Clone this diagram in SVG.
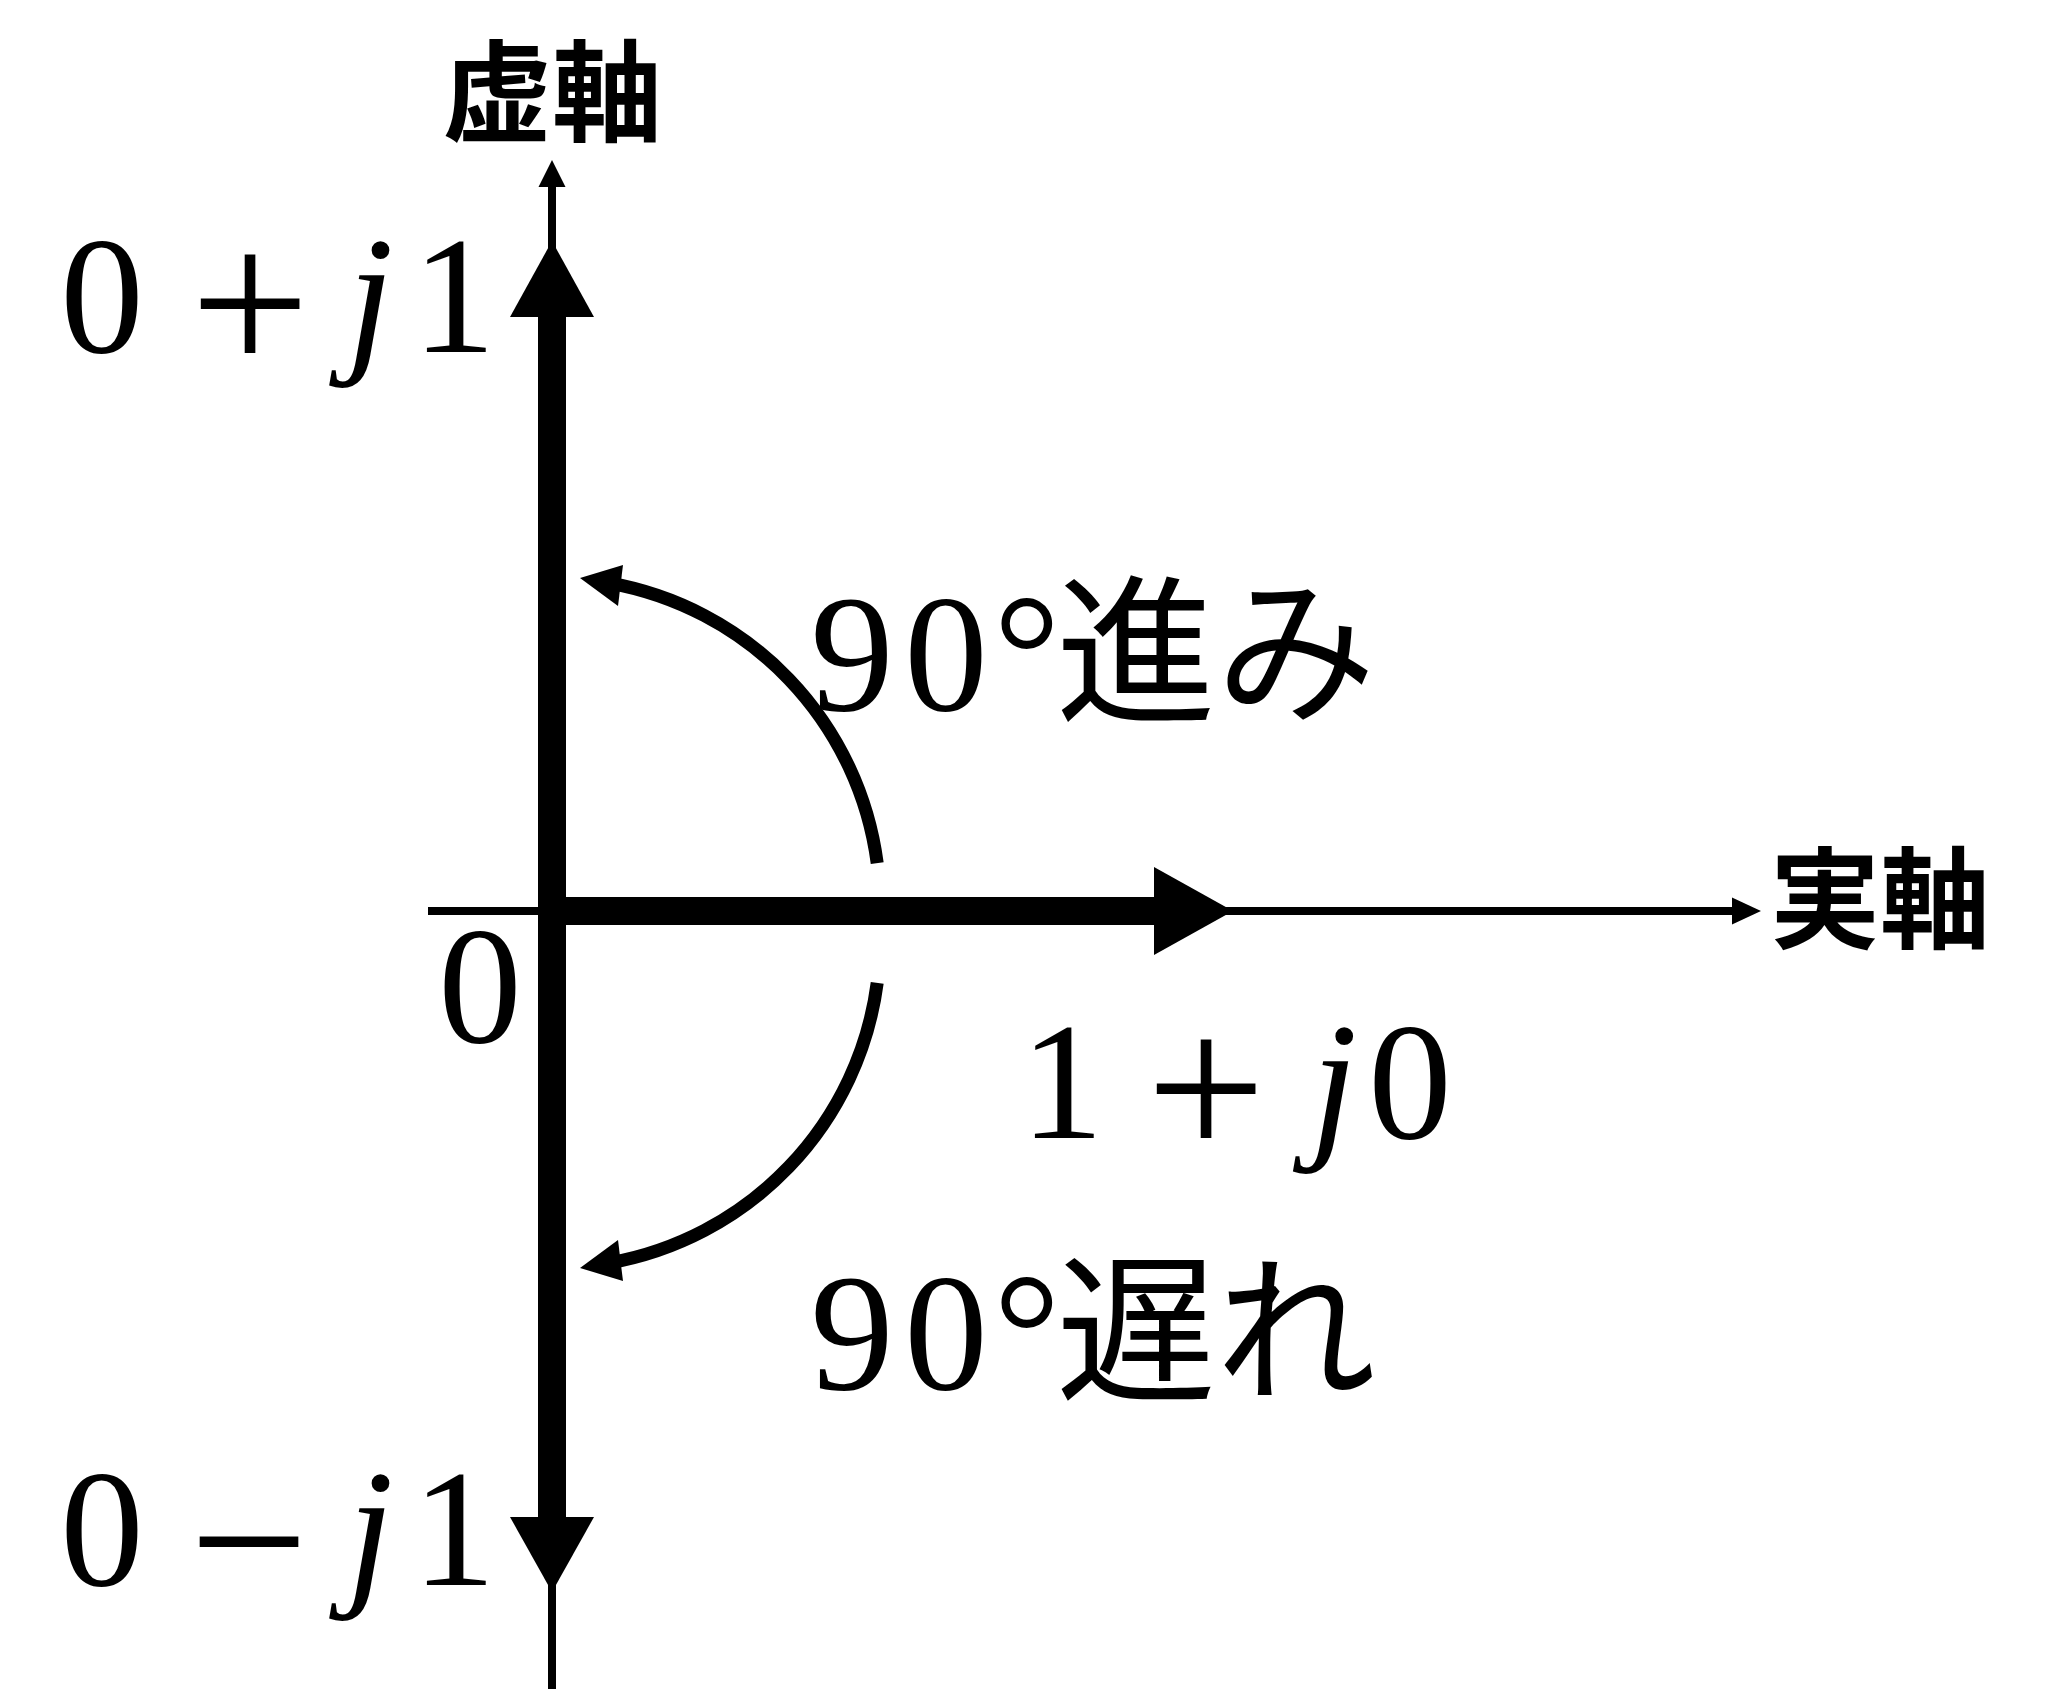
<svg xmlns="http://www.w3.org/2000/svg" width="2057" height="1689" viewBox="0 0 2057 1689">
<style>
.num{font-family:"Liberation Serif","DejaVu Serif",serif;font-size:167px;fill:#000}
.op{font-family:"Liberation Serif","DejaVu Serif",serif;font-size:212px;fill:#000}
.it{font-family:"Liberation Serif","DejaVu Serif",serif;font-style:italic;font-size:167px;fill:#000}
.jp{font-family:"Noto Sans CJK JP","Noto Sans CJK SC",sans-serif;font-size:160px;fill:#000}
.ax{font-family:"Noto Sans CJK JP","Noto Sans CJK SC",sans-serif;font-size:110px;font-weight:700;fill:#000}
.thin{stroke:#000;stroke-width:8;fill:none}
.thick{stroke:#000;stroke-width:28;fill:none}
.arc{stroke:#000;stroke-width:13;fill:none}
.head{fill:#000;stroke:none}
</style>
<rect width="2057" height="1689" fill="#fff"/>
<g id="connectors">
  <line class="thin" x1="552" y1="184" x2="552" y2="1689"/>
  <polygon class="head" points="552,160 538.5,187 565.5,187"/>
  <line class="thin" x1="428" y1="911" x2="1735" y2="911"/>
  <polygon class="head" points="1761,911 1732,897.5 1732,924.5"/>
  <line class="thick" x1="552" y1="911" x2="552" y2="310"/>
  <polygon class="head" points="552,241 510,317 594,317"/>
  <line class="thick" x1="552" y1="911" x2="552" y2="1524"/>
  <polygon class="head" points="552,1592 510,1517 594,1517"/>
  <line class="thick" x1="552" y1="911" x2="1160" y2="911"/>
  <polygon class="head" points="1233,911 1154,867 1154,955"/>
  <path class="arc" d="M 877.2 863.2 A 328 328 0 0 0 609 583"/>
  <polygon class="head" points="580,578 623,565 618,606"/>
  <path class="arc" d="M 877.2 982.8 A 328 328 0 0 1 609 1263"/>
  <polygon class="head" points="580,1268 618,1240 623,1281"/>
</g>
<g id="label-imag-axis"><text class="ax" x="552" y="133" text-anchor="middle">虚軸</text></g>
<g id="label-real-axis"><text class="ax" x="1770" y="940">実軸</text></g>
<g id="label-origin"><text class="num" x="480" y="1042" text-anchor="middle">0</text></g>
<g id="label-p-j1">
  <text class="num" y="352" text-anchor="middle"><tspan x="102">0</tspan><tspan class="op" x="250" dy="22">+</tspan><tspan class="it" x="347" y="352" text-anchor="start">j</tspan><tspan x="454">1</tspan></text>
</g>
<g id="label-m-j1">
  <text class="num" y="1585" text-anchor="middle"><tspan x="102">0</tspan><tspan class="op" x="249" dy="27">−</tspan><tspan class="it" x="347" y="1585" text-anchor="start">j</tspan><tspan x="454">1</tspan></text>
</g>
<g id="label-1-j0">
  <text class="num" y="1138" text-anchor="middle"><tspan x="1062">1</tspan><tspan class="op" x="1206" dy="21">+</tspan><tspan class="it" x="1334" y="1138">j</tspan><tspan x="1410">0</tspan></text>
</g>
<g id="label-lead">
  <text class="num" y="710" text-anchor="middle"><tspan x="852">9</tspan><tspan x="946">0</tspan><tspan x="1027">°</tspan></text>
  <text class="jp" x="1056" y="710">進み</text>
</g>
<g id="label-lag">
  <text class="num" y="1389" text-anchor="middle"><tspan x="852">9</tspan><tspan x="946">0</tspan><tspan x="1027">°</tspan></text>
  <text class="jp" x="1056" y="1389">遅れ</text>
</g>
</svg>
